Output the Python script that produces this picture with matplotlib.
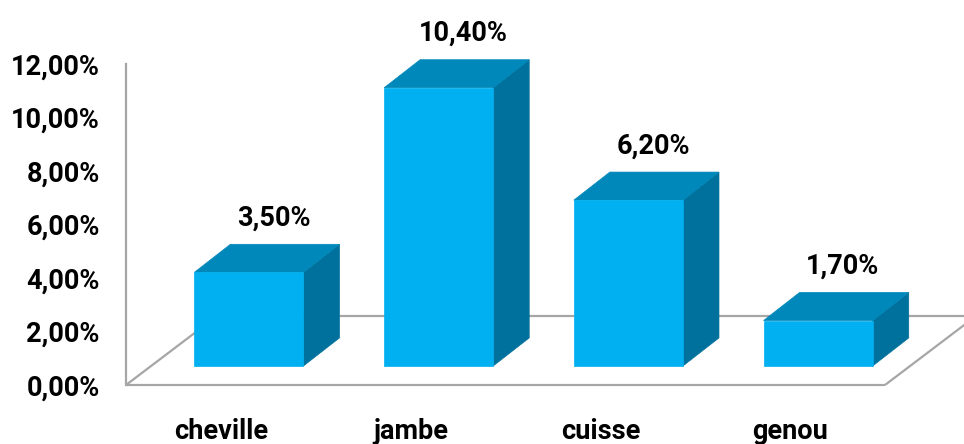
import matplotlib.pyplot as plt
from matplotlib.patches import Polygon

categories = ["cheville", "jambe", "cuisse", "genou"]
values = [3.5, 10.4, 6.2, 1.7]
value_labels = ["3,50%", "10,40%", "6,20%", "1,70%"]
y_ticks = [0, 2, 4, 6, 8, 10, 12]

FRONT = "#00B0F0"
TOP = "#0088BA"
SIDE = "#00719C"
GRID = "#A6A6A6"
FONT = dict(family="Roboto", fontsize=19.5, fontweight="bold")

# pseudo-3D geometry in data units
floor_dx, floor_dy = 0.48, 2.58
bar_off, bar_w = 0.36, 0.575
bar_base = 0.71
bar_dx, bar_dy = 0.19, 1.05

fig = plt.figure(figsize=(9.64, 4.44), dpi=100)
ax = fig.add_axes([126 / 964, 59 / 444, 759 / 964, 321 / 444])
ax.set_xlim(0, 4)
ax.set_ylim(0, 12)

for side in ["top", "right", "bottom"]:
    ax.spines[side].set_visible(False)
ax.spines["left"].set_color(GRID)
ax.spines["left"].set_linewidth(1.6)

# floor outline
n = len(categories)
floor = [
    ((0, n), (0, 0)),
    ((n, n + floor_dx), (0, floor_dy)),
    ((floor_dx, n + floor_dx), (floor_dy, floor_dy)),
    ((0, floor_dx), (0, floor_dy)),
]
for xs, ys in floor:
    ax.plot(xs, ys, color=GRID, lw=1.6, clip_on=False, zorder=1, solid_capstyle="butt")

for i, (v, lab) in enumerate(zip(values, value_labels)):
    x0 = i + bar_off
    x1 = x0 + bar_w
    b, t = bar_base, bar_base + v
    front = [(x0, b), (x1, b), (x1, t), (x0, t)]
    top = [(x0, t), (x1, t), (x1 + bar_dx, t + bar_dy), (x0 + bar_dx, t + bar_dy)]
    side = [(x1, b), (x1 + bar_dx, b + bar_dy), (x1 + bar_dx, t + bar_dy), (x1, t)]
    for pts, c in [(side, SIDE), (top, TOP), (front, FRONT)]:
        ax.add_patch(Polygon(pts, closed=True, facecolor=c, edgecolor=c, lw=0.5,
                             clip_on=False, zorder=3))
    ax.text(x0 + bar_w / 2 + 0.13, t + bar_dy + 0.98, lab, ha="center", va="center",
            clip_on=False, zorder=4, **FONT)

ax.set_yticks(y_ticks)
ax.set_yticklabels([f"{v:.2f}%".replace(".", ",") for v in y_ticks], **FONT)
ax.tick_params(axis="y", length=0, pad=19)

ax.set_xticks([i + 0.5 for i in range(n)])
ax.set_xticklabels(categories, **FONT)
ax.tick_params(axis="x", length=0, pad=24)

fig.savefig("out.png", dpi=100)
